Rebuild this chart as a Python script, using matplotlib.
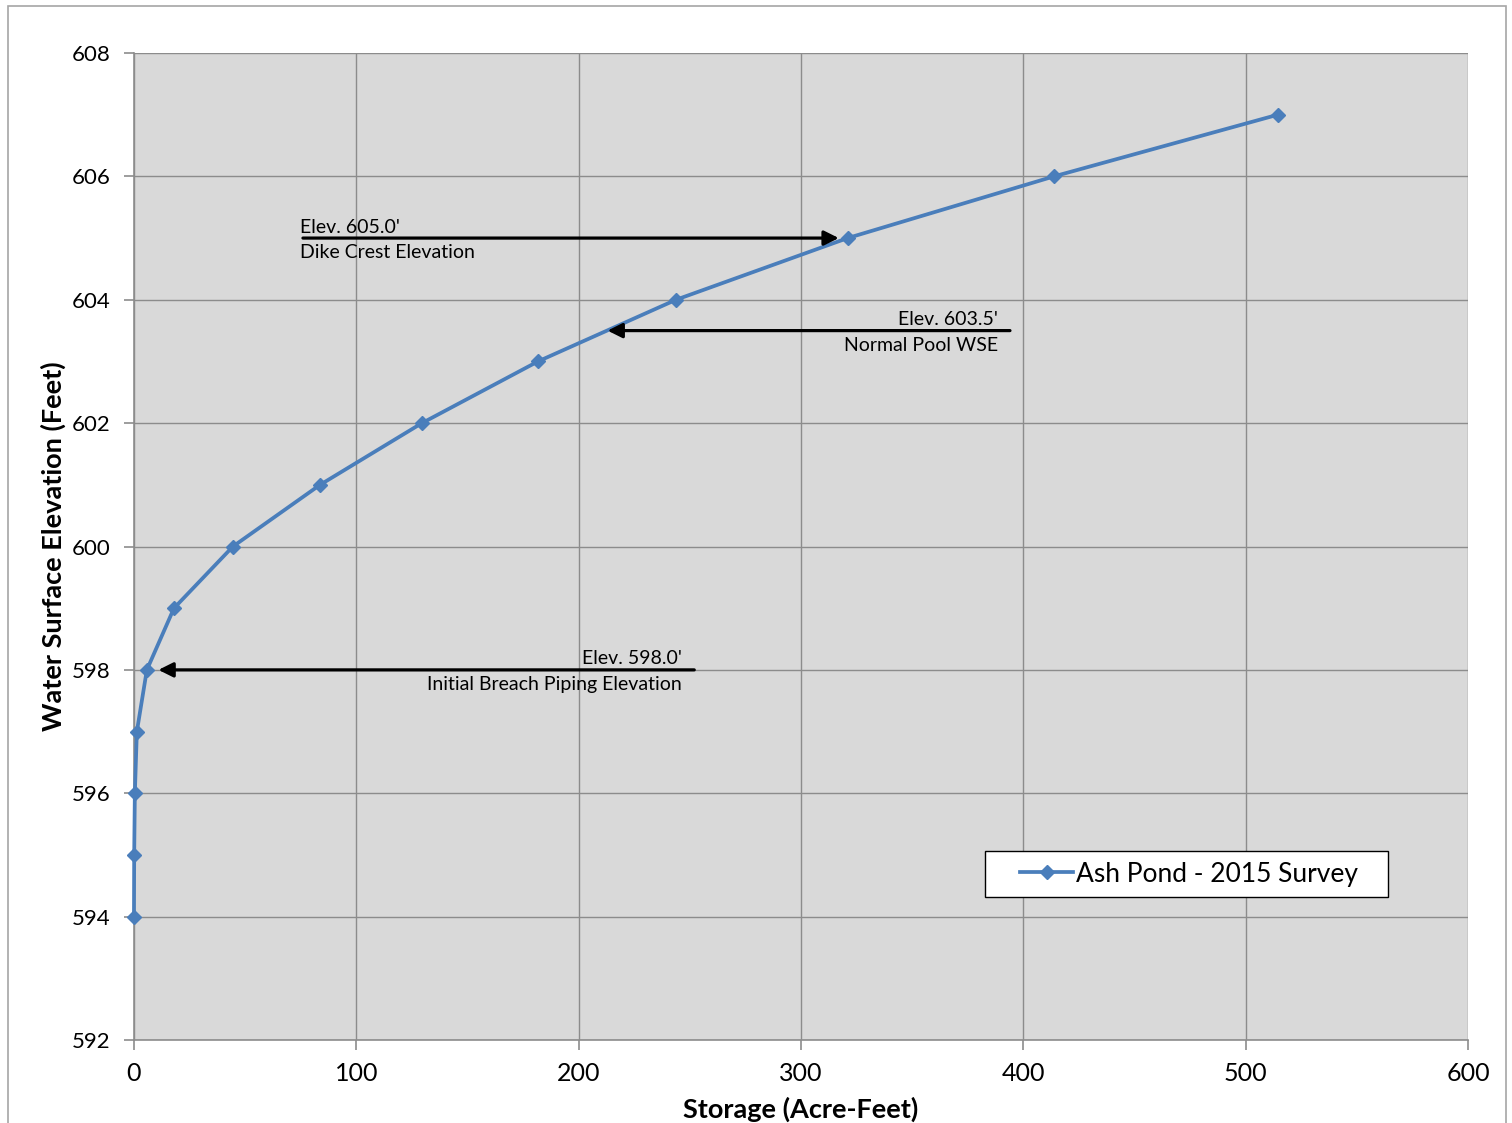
import matplotlib.pyplot as plt
from matplotlib.patches import Rectangle

# Stage-storage curve for the ash pond
storage = [0.0, 0.1, 0.4, 1.3, 5.8, 18.0, 44.5, 83.7, 129.5, 181.7, 243.8, 321.0, 413.8, 514.5]
elevation = [594, 595, 596, 597, 598, 599, 600, 601, 602, 603, 604, 605, 606, 607]

x_ticks = [0, 100, 200, 300, 400, 500, 600]
y_ticks = [592, 594, 596, 598, 600, 602, 604, 606, 608]

# Reference elevations: (text line 1, text line 2, elevation, arrow start x, arrow end x)
dike_crest = ("Elev. 605.0'", "Dike Crest Elevation", 605.0, 76, 317)
normal_pool = ("Elev. 603.5'", "Normal Pool WSE", 603.5, 394, 213)
breach = ("Elev. 598.0'", "Initial Breach Piping Elevation", 598.0, 252, 11)

plt.rcParams['font.family'] = ['Lato', 'DejaVu Sans']

fig = plt.figure(figsize=(15.12, 11.23), dpi=100)
ax = fig.add_axes([0.0886, 0.0739, 0.8823, 0.8789])
fig.patches.append(Rectangle((8 / 1512, -0.1), 1498 / 1512, 1.1 - 6 / 1123,
                             transform=fig.transFigure, fill=False,
                             edgecolor='#a6a6a6', linewidth=1.2))

ax.set_facecolor('#d9d9d9')
ax.grid(True, color='#8c8c8c', linewidth=1.0)
ax.set_axisbelow(True)
for side in ['top', 'right']:
    ax.spines[side].set_visible(False)
for side in ['left', 'bottom']:
    ax.spines[side].set_color('#8c8c8c')
    ax.spines[side].set_linewidth(1.2)

ax.plot(storage, elevation, color='#4a7ebb', linewidth=2.7, marker='D',
        markersize=7, label='Ash Pond - 2015 Survey', clip_on=False, zorder=3)

ax.set_xlim(0, 600)
ax.set_ylim(592, 608)
ax.set_xticks(x_ticks)
ax.set_yticks(y_ticks)
ax.tick_params(axis='both', color='#8c8c8c', length=7, width=1.2)
ax.tick_params(axis='x', labelsize=18, pad=9)
ax.tick_params(axis='y', labelsize=16, pad=10)
ax.set_xlabel('Storage (Acre-Feet)', fontsize=19.5, fontweight='bold', labelpad=8)
ax.set_ylabel('Water Surface Elevation (Feet)', fontsize=19.5, fontweight='bold', labelpad=4)

# Arrow annotations
def mark_level(top, bottom, y, x0, x1, align):
    ax.annotate('', xy=(x1, y), xytext=(x0, y),
                arrowprops=dict(arrowstyle='-|>', color='black', lw=2.3,
                                mutation_scale=22, shrinkA=0, shrinkB=0))
    tx = x0 - 1.5 if align == 'left' else x0 - 5.5
    ax.text(tx, y + 0.04, top, ha=align, va='bottom', fontsize=14)
    ax.text(tx, y - 0.1, bottom, ha=align, va='top', fontsize=14)

mark_level(dike_crest[0], dike_crest[1], dike_crest[2], dike_crest[3], dike_crest[4], 'left')
mark_level(normal_pool[0], normal_pool[1], normal_pool[2], normal_pool[3], normal_pool[4], 'right')
mark_level(breach[0], breach[1], breach[2], breach[3], breach[4], 'right')

# Legend box drawn separately so it can be wider than its contents
ax.add_patch(Rectangle((0.638, 0.145), 0.302, 0.0466, transform=ax.transAxes,
                       facecolor='white', edgecolor='black', linewidth=1.0, zorder=4))
leg = ax.legend(loc='center', bbox_to_anchor=(0.791, 0.168), fontsize=19,
                frameon=False, handlelength=2.0, handletextpad=0.1, borderaxespad=0)
leg.set_zorder(5)

fig.savefig('out.png', dpi=100)
